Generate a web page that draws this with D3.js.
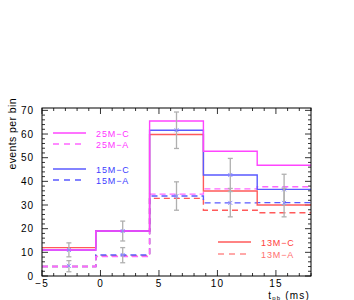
<!DOCTYPE html>
<html>
<head>
<meta charset="utf-8">
<script src="https://cdn.jsdelivr.net/npm/d3@7"></script>
<style>
    body { margin: 0; background: #fff; }
    text { font-family: "Liberation Sans", Arial, sans-serif; }
</style>
</head>
<body>
<div id="chart"></div>
<script>
// bin edges (ms) and bin contents
const binEdges = [-5, -0.4, 4.2, 8.8, 13.4, 18];
const m25C = [11, 19, 65.5, 52.7, 46.8];
const m25A = [4, 8.2, 34.6, 36.8, 37.7];
const m15C = [11, 19, 61.6, 42.7, 36.6];
const m15A = [4, 8.9, 33.8, 30.9, 31];
const m13C = [12, 19, 59.8, 35.9, 30];
const m13A = [4, 8.5, 32.8, 27.8, 26.7];

// measured points with errors
const dataC = [11, 19, 61.6, 42.7, 36.6];
const dataCLow = [8.1, 14.8, 53.9, 35.7, 30.2];
const dataCHigh = [14, 23.2, 69.3, 49.7, 43];
const dataA = [4.3, 8.9, 33.8, 30.9, 30.9];
const dataALow = [1.8, 5.6, 27.8, 25, 25];
const dataAHigh = [6.5, 12, 39.8, 37, 37];

const xTicks = [-5, 0, 5, 10, 15];
const yTicks = [0, 10, 20, 30, 40, 50, 60, 70];

const width = 354, height = 300;
const margin = { top: 108, right: 43, bottom: 24, left: 42 };

const svg = d3.select("#chart").append("svg")
    .attr("width", width)
    .attr("height", height);

const x = d3.scaleLinear().domain([-5, 18]).range([margin.left, width - margin.right]);
const y = d3.scaleLinear().domain([0, 71]).range([height - margin.bottom, margin.top]);

const x0 = x.range()[0], x1 = x.range()[1];
const y0 = y.range()[0], y1 = y.range()[1];

// ticks on all four sides, pointing inwards
const minorX = d3.range(-5, 18.01, 1);
const minorY = d3.range(0, 71, 2);
const tickG = svg.append("g").attr("stroke", "#000").attr("stroke-width", 0.8);

minorX.forEach(t => {
    const len = t % 5 === 0 ? 6 : 3;
    tickG.append("line").attr("x1", x(t)).attr("x2", x(t)).attr("y1", y0).attr("y2", y0 - len);
    tickG.append("line").attr("x1", x(t)).attr("x2", x(t)).attr("y1", y1).attr("y2", y1 + len);
});
minorY.forEach(t => {
    const len = t % 10 === 0 ? 6 : 3;
    tickG.append("line").attr("y1", y(t)).attr("y2", y(t)).attr("x1", x0).attr("x2", x0 + len);
    tickG.append("line").attr("y1", y(t)).attr("y2", y(t)).attr("x1", x1).attr("x2", x1 - len);
});

svg.append("g").selectAll("text")
    .data(xTicks)
    .join("text")
    .attr("x", d => x(d))
    .attr("y", y0 + 11)
    .attr("text-anchor", "middle")
    .attr("font-size", 10)
    .attr("letter-spacing", 1)
    .text(d => d < 0 ? "\u2212" + Math.abs(d) : d);

svg.append("g").selectAll("text")
    .data(yTicks)
    .join("text")
    .attr("x", x0 - 8)
    .attr("y", d => y(d) + 3.5)
    .attr("text-anchor", "end")
    .attr("font-size", 10)
    .attr("letter-spacing", 1)
    .text(d => d);

// histograms as steps
const step = d3.line()
    .x(d => x(d[0]))
    .y(d => y(d[1]))
    .curve(d3.curveStepAfter);

function stepPoints(values) {
    const pts = binEdges.slice(0, -1).map((e, i) => [e, values[i]]);
    pts.push([binEdges[binEdges.length - 1], values[values.length - 1]]);
    return pts;
}

const series = [
    { name: "13M-A", values: m13A, color: "#ff5a5a", dash: "6,4" },
    { name: "15M-A", values: m15A, color: "#5a5aff", dash: "6,4" },
    { name: "25M-A", values: m25A, color: "#ff66ff", dash: "6,4" },
    { name: "13M-C", values: m13C, color: "#ff5a5a", dash: null },
    { name: "15M-C", values: m15C, color: "#5a5aff", dash: null },
    { name: "25M-C", values: m25C, color: "#ff44ff", dash: null }
];

series.forEach(s => {
    svg.append("path")
        .attr("d", step(stepPoints(s.values)))
        .attr("fill", "none")
        .attr("stroke", s.color)
        .attr("stroke-width", 1.4)
        .attr("stroke-dasharray", s.dash);
});

// data points with error bars
const centers = binEdges.slice(0, -1).map((e, i) => (e + binEdges[i + 1]) / 2);

function drawErrors(values, low, high) {
    const g = svg.append("g");
    centers.forEach((c, i) => {
        const cx = x(c);
        g.append("line").attr("x1", cx).attr("x2", cx).attr("y1", y(low[i])).attr("y2", y(high[i]))
            .attr("stroke", "#b0b0b0").attr("stroke-width", 1.3);
        [low[i], high[i]].forEach(v => {
            g.append("line").attr("x1", cx - 2.5).attr("x2", cx + 2.5).attr("y1", y(v)).attr("y2", y(v))
                .attr("stroke", "#b0b0b0").attr("stroke-width", 1.3);
        });
        const cy = y(values[i]);
        g.append("path")
            .attr("d", `M${cx - 2},${cy - 2}L${cx + 2},${cy + 2}M${cx - 2},${cy + 2}L${cx + 2},${cy - 2}`)
            .attr("stroke", "#8c8cff").attr("stroke-width", 1);
    });
}
drawErrors(dataC, dataCLow, dataCHigh);
drawErrors(dataA, dataALow, dataAHigh);

// frame
svg.append("rect")
    .attr("x", x0).attr("y", y1)
    .attr("width", x1 - x0).attr("height", y0 - y1)
    .attr("fill", "none").attr("stroke", "#000").attr("stroke-width", 1);

// legend
const legendItems = [
    { name: "25M-C", color: "#ff44ff", text: "#ff33ff", dash: null, lx: 53, ly: 133 },
    { name: "25M-A", color: "#ff66ff", text: "#ff33ff", dash: "6,5", lx: 53, ly: 144 },
    { name: "15M-C", color: "#5a5aff", text: "#3c3cff", dash: null, lx: 53, ly: 169 },
    { name: "15M-A", color: "#5a5aff", text: "#3c3cff", dash: "6,5", lx: 53, ly: 180 },
    { name: "13M-C", color: "#ff5a5a", text: "#ff3c3c", dash: null, lx: 218, ly: 242 },
    { name: "13M-A", color: "#ff8c8c", text: "#ff6e6e", dash: "6,5", lx: 218, ly: 254 }
];

legendItems.forEach(d => {
    svg.append("line")
        .attr("x1", d.lx).attr("x2", d.lx + 33)
        .attr("y1", d.ly).attr("y2", d.ly)
        .attr("stroke", d.color).attr("stroke-width", 1.3)
        .attr("stroke-dasharray", d.dash);
    svg.append("text")
        .attr("x", d.lx + 43).attr("y", d.ly + 3.5)
        .attr("font-size", 9)
        .attr("letter-spacing", 0.9)
        .attr("fill", d.text)
        .text(d.name.replace("-", "\u2212"));
});

// axis titles
const xTitle = svg.append("text")
    .attr("x", x1 - 1)
    .attr("y", 298.5)
    .attr("text-anchor", "end")
    .attr("font-size", 10)
    .attr("letter-spacing", 1.2);
xTitle.append("tspan").text("t");
xTitle.append("tspan").attr("font-size", 6).attr("dy", 1).text("pb");
xTitle.append("tspan").attr("dy", -1).text(" (ms)");

svg.append("text")
    .attr("transform", `translate(16,98) rotate(-90)`)
    .attr("text-anchor", "end")
    .attr("font-size", 10.5)
    .attr("letter-spacing", 0.4)
    .text("events per bin");
</script>
</body>
</html>
